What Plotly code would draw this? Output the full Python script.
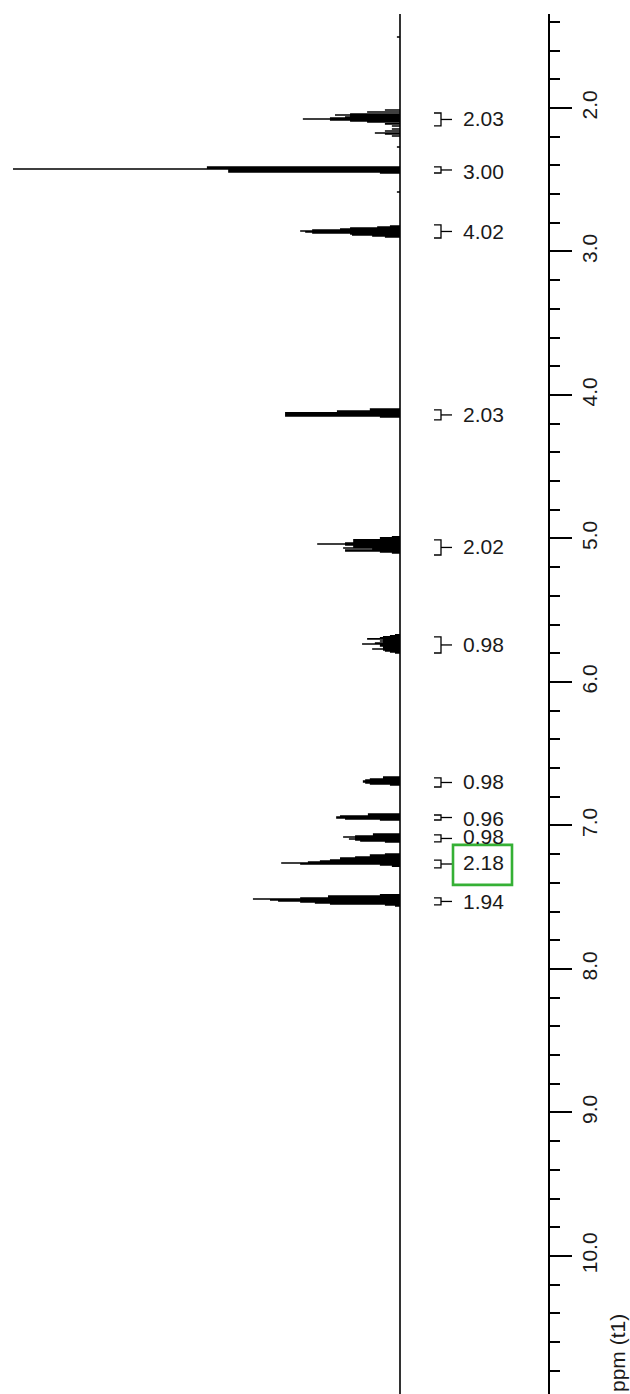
import plotly.graph_objects as go

# ---------------- data ----------------
# Spectrum drawn as a stick list: chemical shift (ppm) and relative intensity
peak_ppm = [
    1.505,
    # ~2.0-2.2 multiplets
    2.014, 2.028, 2.042, 2.049, 2.056, 2.063, 2.070, 2.077, 2.084, 2.091, 2.098, 2.111, 2.125,
    2.146, 2.160, 2.174, 2.181, 2.195,
    2.272,
    # singlet ~2.42
    2.411, 2.418, 2.425, 2.432, 2.439, 2.446, 2.453,
    2.585,
    # ~2.86
    2.822, 2.829, 2.836, 2.843, 2.850, 2.857, 2.864, 2.871, 2.878, 2.885, 2.892, 2.899,
    # ~4.13
    4.098, 4.105, 4.112, 4.118, 4.125, 4.132, 4.139, 4.146, 4.153,
    # ~5.05
    4.989, 4.996, 5.003, 5.010, 5.017, 5.024, 5.031, 5.038, 5.045, 5.052, 5.059, 5.066,
    5.073, 5.080, 5.087, 5.094, 5.101,
    # ~5.73
    5.672, 5.679, 5.686, 5.693, 5.700, 5.707, 5.714, 5.721, 5.728, 5.735, 5.742, 5.749,
    5.756, 5.763, 5.770, 5.777, 5.784, 5.791, 5.798,
    # ~6.69
    6.662, 6.669, 6.676, 6.683, 6.690, 6.697, 6.704, 6.711, 6.718,
    # ~6.94
    6.920, 6.927, 6.934, 6.941, 6.948, 6.955, 6.962,
    # ~7.08
    7.059, 7.066, 7.073, 7.080, 7.087, 7.094, 7.101, 7.108, 7.115,
    # ~7.26
    7.199, 7.206, 7.213, 7.220, 7.227, 7.234, 7.241, 7.248, 7.255, 7.262, 7.269, 7.276, 7.283,
    # ~7.52
    7.484, 7.491, 7.498, 7.505, 7.512, 7.519, 7.526, 7.533, 7.540, 7.547, 7.554, 7.561,
]
peak_intensity = [
    0.8,
    3.9, 8.5, 12.9, 16.8, 12.9, 14.2, 18.1, 25.1, 18.1, 12.9, 8.5, 3.9, 2.1,
    2.1, 3.9, 6.5, 3.9, 2.1,
    0.8,
    49.9, 49.9, 100.0, 44.4, 44.4, 44.4, 5.2,
    0.8,
    2.6, 5.9, 12.9, 15.5, 22.7, 25.8, 24.5, 22.7, 12.9, 12.4, 7.2, 3.9,
    7.8, 7.8, 16.3, 16.3, 29.7, 29.7, 29.7, 29.7, 5.2,
    2.1, 5.2, 5.2, 12.1, 12.1, 12.1, 14.2, 21.4, 14.2, 12.1, 12.1, 14.7,
    7.2, 14.2, 14.2, 5.2, 2.1,
    1.3, 2.6, 4.4, 5.2, 8.5, 4.4, 5.2, 4.4, 6.5, 9.8, 5.2, 5.2,
    4.4, 4.4, 7.2, 4.4, 3.9, 2.6, 1.3,
    4.4, 4.4, 7.8, 9.0, 9.6, 9.6, 9.0, 7.8, 2.6,
    8.3, 8.3, 15.5, 16.5, 16.5, 14.2, 5.2,
    7.0, 7.0, 11.6, 14.7, 11.6, 13.2, 11.6, 10.3, 3.9,
    3.9, 7.8, 7.8, 11.6, 15.5, 15.5, 18.1, 20.7, 23.8, 30.7, 25.8, 5.2, 2.1,
    5.2, 18.6, 18.6, 25.8, 38.0, 33.6, 31.5, 25.8, 22.0, 18.1, 3.9, 1.3,
]
spectrum_start_ppm = 1.345
spectrum_end_ppm = 10.962

# Integrals
integral_values = ["2.03", "3.00", "4.02", "2.03", "2.02", "0.98", "0.98", "0.96", "0.98", "2.18", "1.94"]
integral_label_ppm = [2.070, 2.446, 2.864, 4.139, 5.059, 5.742, 6.697, 6.948, 7.080, 7.261, 7.533]
integral_from_ppm = [2.035, 2.411, 2.815, 4.104, 5.010, 5.686, 6.669, 6.927, 7.066, 7.241, 7.505]
integral_to_ppm = [2.125, 2.453, 2.906, 4.174, 5.115, 5.798, 6.732, 6.962, 7.115, 7.296, 7.554]
highlighted_integral = 9

# ppm axis
major_tick_ppm = [2.0, 3.0, 4.0, 5.0, 6.0, 7.0, 8.0, 9.0, 10.0]
major_tick_text = ["2.0", "3.0", "4.0", "5.0", "6.0", "7.0", "8.0", "9.0", "10.0"]
axis_title = "ppm (t1)"

# ---------------- layout constants (pixels) ----------------
W, H = 630, 1394
BASE_PX = 400.0          # baseline position
UNIT_PX = 3.87           # pixels per intensity unit
TOP_PX = 14              # where the ppm axis starts
SPINE_PX = 549
FONT = "Liberation Sans, Arial, sans-serif"
PPM_PER_PX = (spectrum_end_ppm - spectrum_start_ppm) / (H - TOP_PX)


def px2int(px):
    return (BASE_PX - px) / UNIT_PX


# ---------------- spectrum trace ----------------
order = sorted(range(len(peak_ppm)), key=lambda i: peak_ppm[i])
sx, sy = [0.0], [spectrum_start_ppm]
for i in order:
    p, h = peak_ppm[i], peak_intensity[i]
    sx += [0.0, h, 0.0]
    sy += [p, p, p]
sx.append(0.0)
sy.append(spectrum_end_ppm)

fig = go.Figure()
fig.add_trace(go.Scatter(x=sx, y=sy, mode="lines",
                         line=dict(color="black", width=1.6),
                         hoverinfo="skip", showlegend=False))

# ---------------- integral brackets ----------------
bx, by = [], []
xl, xv, xd = px2int(434), px2int(441), px2int(452)
for lo, hi in zip(integral_from_ppm, integral_to_ppm):
    mid = (lo + hi) / 2
    bx += [xl, xv, xv, xl, None, xv, xd, None]
    by += [lo, lo, hi, hi, None, mid, mid, None]
fig.add_trace(go.Scatter(x=bx, y=by, mode="lines",
                         line=dict(color="black", width=1.3),
                         hoverinfo="skip", showlegend=False))

for txt, yp in zip(integral_values, integral_label_ppm):
    fig.add_annotation(x=px2int(461), y=yp, xref="x", yref="y", text=txt,
                       showarrow=False, xanchor="left", yanchor="middle",
                       font=dict(family=FONT, size=21, color="#1a1a1a"))

# highlight box
hy = integral_label_ppm[highlighted_integral]
fig.add_shape(type="rect", xref="x", yref="y",
              x0=px2int(453), x1=px2int(512),
              y0=hy - 18 * PPM_PER_PX, y1=hy + 22 * PPM_PER_PX,
              line=dict(color="#35b035", width=2.6), fillcolor="rgba(0,0,0,0)")

# axis title
fig.add_annotation(x=617 / W, y=1 - 1353 / H, xref="paper", yref="paper",
                   text=axis_title, showarrow=False, textangle=-90,
                   xanchor="center", yanchor="middle",
                   font=dict(family=FONT, size=21, color="#1a1a1a"))

fig.update_layout(
    width=W, height=H,
    margin=dict(l=0, r=0, t=0, b=0),
    paper_bgcolor="white", plot_bgcolor="white",
    showlegend=False,
    xaxis=dict(range=[px2int(0), px2int(W)], visible=False, fixedrange=True),
    yaxis=dict(
        domain=[0, 1 - TOP_PX / H],
        range=[spectrum_end_ppm, spectrum_start_ppm],
        side="right", anchor="free", position=SPINE_PX / W,
        showline=True, linecolor="black", linewidth=2,
        showgrid=False, zeroline=False,
        ticks="outside", ticklen=22, tickwidth=2, tickcolor="black",
        tickvals=major_tick_ppm, ticktext=major_tick_text,
        tickangle=-90,
        tickfont=dict(family=FONT, size=21, color="#1a1a1a"),
        minor=dict(dtick=0.2, tick0=0, ticks="outside", ticklen=10,
                   tickwidth=2, tickcolor="black", showgrid=False),
        fixedrange=True,
    ),
)

fig.write_html("out.html",
               config={"displayModeBar": False},
               post_script="document.body.style.margin='0';document.body.style.overflow='hidden';")
